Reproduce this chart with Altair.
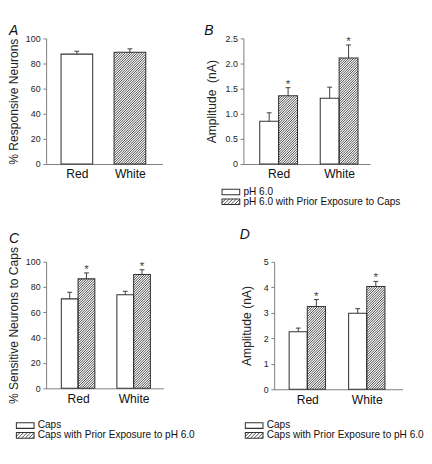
import altair as alt
import pandas as pd
import numpy as np

FONT = "Liberation Sans"
DARK = "#333333"
AXC = "#777777"

categories = ["Red", "White"]

# Panel A: % responsive neurons (Red = open bar, White = hatched bar)
a_values = [87.5, 89.0]
a_sems = [2.3, 2.7]

# Panel B: amplitude (nA)
b_labels = ["pH 6.0", "pH 6.0 with Prior Exposure to Caps"]
b_ph = [0.85, 1.31]
b_ph_sem = [0.17, 0.22]
b_prior = [1.36, 2.11]
b_prior_sem = [0.16, 0.26]

# Panel C: % sensitive neurons to caps
c_labels = ["Caps", "Caps with Prior Exposure to pH 6.0"]
c_caps = [70.7, 73.9]
c_caps_sem = [5.2, 2.8]
c_prior = [86.5, 89.9]
c_prior_sem = [4.7, 3.8]

# Panel D: amplitude (nA)
d_labels = ["Caps", "Caps with Prior Exposure to pH 6.0"]
d_caps = [2.26, 2.98]
d_caps_sem = [0.14, 0.18]
d_prior = [3.25, 4.03]
d_prior_sem = [0.27, 0.20]


def hatch_segments(x0, w, yb, h, step):
    """Diagonal '/' lines clipped to a box, in pixel units (y upward)."""
    segs = []
    c = -w + step / 2
    while c < h:
        xs = max(0.0, -c)
        xe = min(w, h - c)
        if xe > xs:
            segs.append((x0 + xs, yb + xs + c, x0 + xe, yb + xe + c))
        c += step
    return segs


def make_panel(letter, letter_xy, bars, ymax, ystep, ytitle, width, height,
               centers, bar_w, title_pad=5, legend=None, legend_xy=(0, 0),
               yfmt=".0f", spacing=2.6, row_gap=10.5):
    k = ymax / height  # data units per pixel (vertical)
    rows, hatch_rows, err_rows = [], [], []
    for b in bars:
        left = centers[b["cat"]] + b["slot"] * bar_w
        right = left + bar_w
        rows.append({"x0": left, "x1": right, "y0": 0.0, "y1": b["value"]})
        xc = (left + right) / 2
        err_rows.append({"xc": xc, "ylo": b["value"], "yhi": b["value"] + b["sem"],
                         "cx0": xc - 2.6, "cx1": xc + 2.6,
                         "star": "*" if b["star"] else ""})
        if b["hatched"]:
            for (ax, ay, bx, by) in hatch_segments(left, bar_w, 0.0,
                                                   b["value"] / k, spacing):
                hatch_rows.append({"hx0": ax, "hy0": ay * k, "hx1": bx, "hy1": by * k})

    leg_boxes, leg_text = [], []
    if legend is not None:
        lx, ly = legend_xy
        for i, lab in enumerate(legend):
            py = ly + i * row_gap          # pixels below plot top
            yc = height - py               # pixels above plot bottom
            leg_boxes.append({"x0": lx, "x1": lx + 19,
                              "y0": (yc - 3) * k, "y1": (yc + 3) * k})
            leg_text.append({"tx": lx + 23, "ty": yc * k, "label": lab})
            if i == 1:
                for (ax, ay, bx, by) in hatch_segments(lx, 19, yc - 3, 6, 3.8):
                    hatch_rows.append({"hx0": ax, "hy0": ay * k,
                                       "hx1": bx, "hy1": by * k})
        rows = rows + leg_boxes

    bars_df = pd.DataFrame(rows)
    hatch_df = pd.DataFrame(hatch_rows)
    err_df = pd.DataFrame(err_rows)

    label_expr = " : ".join(
        f"abs(datum.value - {centers[i]}) < 1 ? '{categories[i]}'"
        for i in range(len(categories))) + " : ''"
    x_axis = alt.Axis(values=list(centers), labelExpr=label_expr, ticks=False,
                      labelFontSize=13, labelPadding=5, labelColor="#111",
                      title=None, domainColor=AXC, labelFont=FONT,
                      labelAngle=0)
    y_vals = list(np.round(np.arange(0, ymax + ystep / 2, ystep), 3))
    y_axis = alt.Axis(values=y_vals, tickSize=3.5, labelFontSize=9.5,
                      labelPadding=3, labelColor="#222",
                      labelExpr=f"datum.value == 0 ? '0' : format(datum.value, '{yfmt}')",
                      title=ytitle, titleFontSize=13, titleFontWeight="normal",
                      titleColor="#222", titlePadding=title_pad, domainColor=AXC,
                      tickColor=AXC, labelFont=FONT, titleFont=FONT)
    xs = alt.Scale(domain=[0, width], nice=False, zero=False)
    ys = alt.Scale(domain=[0, ymax], nice=False)

    layers = [alt.Chart(bars_df).mark_rect(fill="white", strokeWidth=0).encode(
        x=alt.X("x0:Q", scale=xs, axis=x_axis),
        x2="x1:Q",
        y=alt.Y("y0:Q", scale=ys, axis=y_axis),
        y2="y1:Q")]
    if len(hatch_df):
        layers.append(alt.Chart(hatch_df).mark_rule(color=DARK, strokeWidth=0.95).encode(
            x=alt.X("hx0:Q", scale=xs, axis=x_axis), x2="hx1:Q",
            y=alt.Y("hy0:Q", scale=ys, axis=y_axis), y2="hy1:Q"))
    layers.append(alt.Chart(bars_df).mark_rect(fillOpacity=0, stroke=DARK,
                                              strokeWidth=1.1).encode(
        x=alt.X("x0:Q", scale=xs, axis=x_axis), x2="x1:Q",
        y=alt.Y("y0:Q", scale=ys, axis=y_axis), y2="y1:Q"))
    layers.append(alt.Chart(err_df).mark_rule(color=DARK, strokeWidth=1).encode(
        x=alt.X("xc:Q", scale=xs, axis=x_axis),
        y=alt.Y("ylo:Q", scale=ys, axis=y_axis), y2="yhi:Q"))
    layers.append(alt.Chart(err_df).mark_rule(color=DARK, strokeWidth=1).encode(
        x=alt.X("cx0:Q", scale=xs, axis=x_axis), x2="cx1:Q",
        y=alt.Y("yhi:Q", scale=ys, axis=y_axis)))
    layers.append(alt.Chart(err_df).mark_text(font=FONT, fontSize=12.5, color="#444",
                                             baseline="alphabetic", dy=0).encode(
        x=alt.X("xc:Q", scale=xs, axis=x_axis),
        y=alt.Y("yhi:Q", scale=ys, axis=y_axis),
        text="star:N"))
    if leg_text:
        layers.append(alt.Chart(pd.DataFrame(leg_text)).mark_text(
            font=FONT, fontSize=10.8, color="#111", align="left",
            baseline="middle").encode(
            x=alt.X("tx:Q", scale=xs, axis=x_axis),
            y=alt.Y("ty:Q", scale=ys, axis=y_axis),
            text="label:N"))
    # panel letter
    layers.append(alt.Chart(pd.DataFrame({"t": [letter]})).mark_text(
        font=FONT, fontSize=15, fontStyle="italic", color="#111",
        align="left", baseline="top").encode(
        text="t:N", x=alt.value(letter_xy[0]), y=alt.value(letter_xy[1])))
    return alt.layer(*layers).properties(width=width, height=height)


def two_series(v1, s1, v2, s2):
    out = []
    for i in range(len(categories)):
        out.append({"cat": i, "slot": -1, "value": v1[i], "sem": s1[i],
                    "hatched": False, "star": False})
        out.append({"cat": i, "slot": 0, "value": v2[i], "sem": s2[i],
                    "hatched": True, "star": True})
    return out


a_bars = [
    {"cat": 0, "slot": -0.5, "value": a_values[0], "sem": a_sems[0],
     "hatched": False, "star": False},
    {"cat": 1, "slot": -0.5, "value": a_values[1], "sem": a_sems[1],
     "hatched": True, "star": False},
]

pA = make_panel("A", (-40, -16), a_bars, 100, 20, "% Responsive Neurons",
                125, 135, [33, 90], 34, title_pad=5)
pB = make_panel("B", (-42, -16), two_series(b_ph, b_ph_sem, b_prior, b_prior_sem),
                2.5, 0.5, "Amplitude\u00a0 (nA)", 136, 135, [37.8, 102.8], 20.3,
                title_pad=7, legend=b_labels, legend_xy=(-23, 165), yfmt=".1f")
pC = make_panel("C", (-40, -32), two_series(c_caps, c_caps_sem, c_prior, c_prior_sem),
                100, 20, "% Sensitive Neurons to Caps", 126, 136, [34.3, 94], 18,
                title_pad=5, legend=c_labels, legend_xy=(-32, 176))
pD = make_panel("D", (-37, -36), two_series(d_caps, d_caps_sem, d_prior, d_prior_sem),
                5, 1, "Amplitude (nA)", 138, 137, [35.6, 99.5], 19.5,
                title_pad=10.5, legend=d_labels, legend_xy=(-31, 176))

row1 = alt.hconcat(pA, pB, spacing=45)
row2 = alt.hconcat(pC, pD, spacing=48)
chart = alt.vconcat(row1, row2, spacing=23).properties(padding=0).configure(
    font=FONT
).configure_view(stroke=None).configure_axis(grid=False)

chart.save("out.html", embed_options={"renderer": "svg", "actions": False})
